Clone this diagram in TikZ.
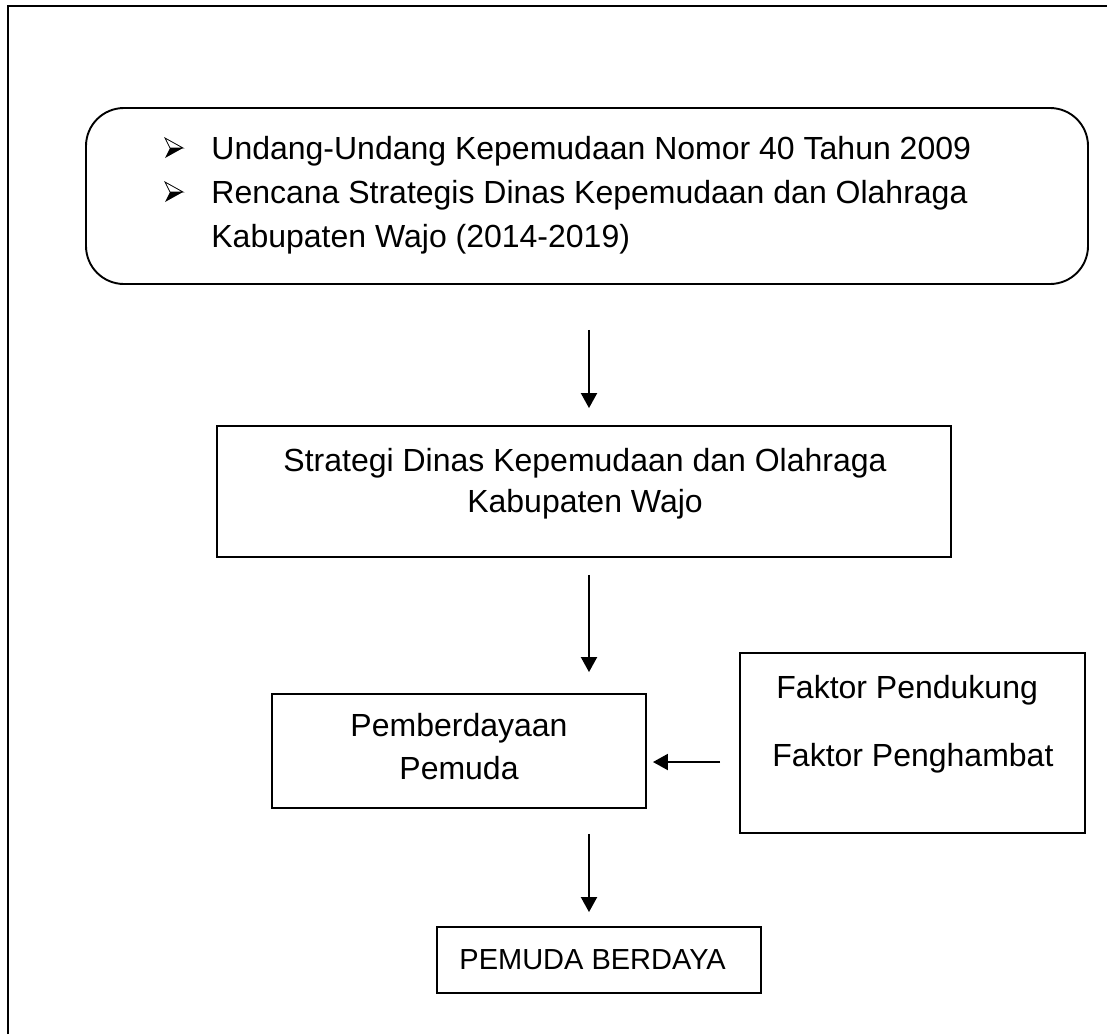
\documentclass[tikz,border=0pt]{standalone}
\usepackage{fontspec}
\setmainfont{Liberation Sans}
\usetikzlibrary{arrows.meta}
\begin{document}
\begin{tikzpicture}[x=0.5pt,y=-0.5pt,
  boxshape/.style={draw, line width=0.95pt, rectangle, inner sep=0pt},
  txt/.style={font=\fontsize{16}{20}\selectfont, inner sep=0pt},
  smalltxt/.style={font=\fontsize{14.5}{18}\selectfont, inner sep=0pt},
  flow/.style={line width=1pt, -{Triangle[length=7.5pt,width=8pt]}},
  bul/.pic={
    \draw[line width=0.4pt, fill=white, line join=miter] (9,0) -- (-9,-10) -- (-4,0) -- cycle;
    \fill (9,0) -- (-4,0) -- (-9,10) -- cycle;
  }
]
\useasboundingbox (0,0) rectangle (1107,1034);
% frame
\draw[line width=1.2pt] (8,1034) -- (8,6) -- (1107,6);

% coordinates for connector alignment
\coordinate (ax) at (589,0);
\coordinate (ay) at (0,762);

% top rounded box
\node[boxshape, rounded corners=19pt, minimum width=501pt, minimum height=88pt] (law) at (587,196) {};
\pic at (174,148) {bul};
\pic at (174,192) {bul};
\node[txt, anchor=base west] (law1) at (211,159) {Undang-Undang Kepemudaan Nomor 40 Tahun 2009};
\node[txt, anchor=base west] (law2) at (211,203) {Rencana Strategis Dinas Kepemudaan dan Olahraga};
\node[txt, anchor=base west] (law3) at (211,247) {Kabupaten Wajo (2014-2019)};

% strategi box
\node[boxshape, minimum width=367pt, minimum height=65.5pt] (strat) at (584,491.5) {};
\node[txt, anchor=base] (strat1) at (585,471) {Strategi Dinas Kepemudaan dan Olahraga};
\node[txt, anchor=base] (strat2) at (585,512) {Kabupaten Wajo};

% pemberdayaan box
\node[boxshape, minimum width=187pt, minimum height=57pt] (pemb) at (459,751) {};
\node[txt, anchor=base] (pemb1) at (459,736) {Pemberdayaan};
\node[txt, anchor=base] (pemb2) at (459,779) {Pemuda};

% faktor box
\node[boxshape, minimum width=172.5pt, minimum height=90pt] (faktor) at (912.5,743) {};
\node[txt, anchor=base west] (fak1) at (776,698) {Faktor Pendukung};
\node[txt, anchor=base west] (fak2) at (772,766) {Faktor Penghambat};

% pemuda berdaya box
\node[boxshape, minimum width=162pt, minimum height=33pt] (hasil) at (599,960) {};
\node[smalltxt, anchor=base west] (hasil1) at (459,969) {PEMUDA BERDAYA};

% connectors
\draw[flow, shorten <=22.5pt, shorten >=8.5pt] (law.south -| ax) -- (strat.north -| ax);
\draw[flow, shorten <=8.5pt, shorten >=10.5pt] (strat.south -| ax) -- (pemb.north -| ax);
\draw[flow, shorten <=9.5pt, shorten >=3pt] (faktor.west |- ay) -- (pemb.east |- ay);
\draw[flow, shorten <=12.5pt, shorten >=7pt] (pemb.south -| ax) -- (hasil.north -| ax);
\end{tikzpicture}
\end{document}
